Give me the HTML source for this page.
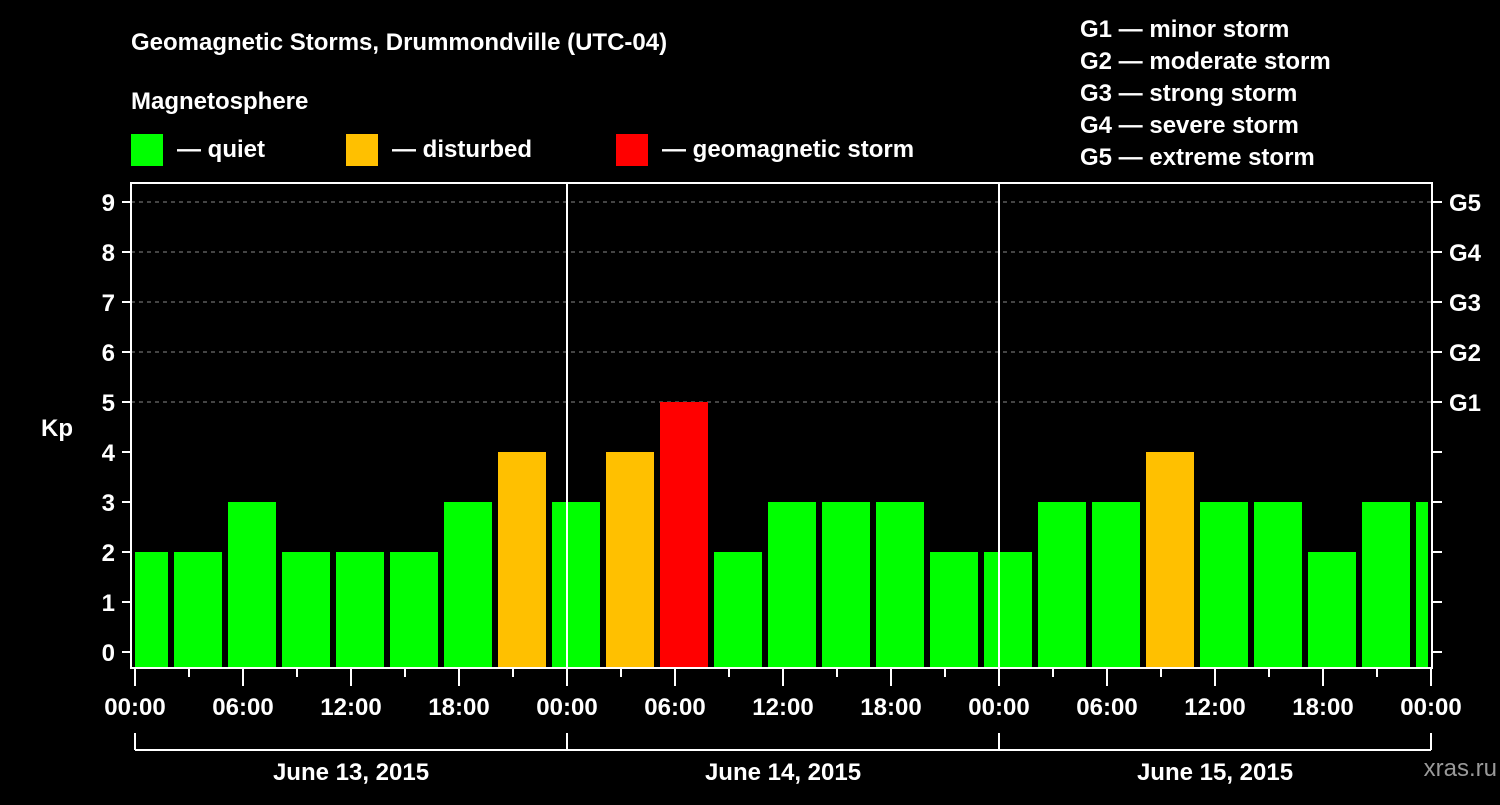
<!DOCTYPE html>
<html><head><meta charset="utf-8"><style>
body{margin:0;background:#000;width:1500px;height:800px;overflow:hidden}
svg text{font-family:"Liberation Sans",sans-serif;font-weight:bold;fill:#fff}
</style></head><body>
<svg id="chart" width="1500" height="800">
<text x="131" y="50" font-size="24">Geomagnetic Storms, Drummondville (UTC-04)</text>
<text x="131" y="109" font-size="24">Magnetosphere</text>
<rect x="131" y="134" width="32" height="32" fill="#00ff00"/>
<text x="177" y="157" font-size="24">— quiet</text>
<rect x="346" y="134" width="32" height="32" fill="#ffc000"/>
<text x="392" y="157" font-size="24">— disturbed</text>
<rect x="616" y="134" width="32" height="32" fill="#ff0000"/>
<text x="662" y="157" font-size="24">— geomagnetic storm</text>
<g font-size="24">
<text x="1080" y="37">G1 — minor storm</text>
<text x="1080" y="69">G2 — moderate storm</text>
<text x="1080" y="101">G3 — strong storm</text>
<text x="1080" y="133">G4 — severe storm</text>
<text x="1080" y="165">G5 — extreme storm</text>
</g>
<text x="41" y="436" font-size="24">Kp</text>
<text x="1497" y="776" font-size="24" text-anchor="end" fill="#999" style="fill:#999;font-weight:normal">xras.ru</text>
<g id="grid"></g><g id="bars"></g><g id="axes"></g>
</svg>
<script>
const kpValues=[2,2,3,2,2,2,3,4,3,4,5,2,3,3,3,2,2,3,3,4,3,3,2,3,3];
const yTicks=[0,1,2,3,4,5,6,7,8,9];
const gLabels=['G1','G2','G3','G4','G5'];
const hourLabels=['00:00','06:00','12:00','18:00'];
const dayLabels=['June 13, 2015','June 14, 2015','June 15, 2015'];
const NS='http://www.w3.org/2000/svg';
const X0=135,PX_H=18,PL=131,PR=1432,PT=183,PB=668;
const x=h=>X0+h*PX_H;
const y=v=>652-v*50;
function mk(tag,attrs,parent,txt){const e=document.createElementNS(NS,tag);for(const k in attrs)e.setAttribute(k,attrs[k]);if(txt!==undefined)e.textContent=txt;document.getElementById(parent).appendChild(e);return e;}
// grid
for(let v=5;v<=9;v++){
 const l=mk('line',{x1:PL,x2:PR,y1:y(v),y2:y(v),stroke:'#888','stroke-width':1,'stroke-dasharray':'4,4'},'grid');
 
 
}
// bars: slots of 3h starting at -1h
kpValues.forEach((v,i)=>{
 let s=-1+3*i;
 let a=Math.max(x(s)+3,X0),b=Math.min(x(s+3)-3,1428);
 const c=v>=5?'#ff0000':(v>=4?'#ffc000':'#00ff00');
 const r=mk('rect',{x:a,y:y(v),width:b-a,height:PB-y(v),fill:c},'bars');
 
 
});
// frame
const f=mk('rect',{x:PL,y:PT,width:PR-PL,height:PB-PT,fill:'none',stroke:'#fff','stroke-width':2},'axes');


[1,2].forEach(d=>{const l=mk('line',{x1:x(24*d),x2:x(24*d),y1:PT,y2:PB,stroke:'#fff','stroke-width':2},'axes');
 
 });
yTicks.forEach(v=>{
 mk('line',{x1:122,x2:PL,y1:y(v),y2:y(v),stroke:'#fff','stroke-width':2},'axes');
 mk('line',{x1:PR,x2:1442,y1:y(v),y2:y(v),stroke:'#fff','stroke-width':2},'axes');
 const t=mk('text',{x:115,y:y(v)+9,'font-size':24,'text-anchor':'end'},'axes',v);
 
 
});
gLabels.forEach((g,i)=>{
 const t=mk('text',{x:1449,y:y(5+i)+9,'font-size':24},'axes',g);
 
 
});
for(let h=0;h<=72;h+=3){
 const long=h%6===0;
 mk('line',{x1:x(h),x2:x(h),y1:PB,y2:PB+(long?18:9),stroke:'#fff','stroke-width':2},'axes');
 if(long){const t=mk('text',{x:x(h),y:715,'font-size':24,'text-anchor':'middle'},'axes',hourLabels[(h/6)%4]);
  
  }
}
mk('line',{x1:x(0),x2:x(72),y1:750,y2:750,stroke:'#fff','stroke-width':2},'axes');
for(let d=0;d<=3;d++)mk('line',{x1:x(24*d),x2:x(24*d),y1:733,y2:750,stroke:'#fff','stroke-width':2},'axes');
dayLabels.forEach((s,d)=>{const t=mk('text',{x:x(24*d+12),y:780,'font-size':24,'text-anchor':'middle'},'axes',s);
 
 });
</script>
</body></html>
